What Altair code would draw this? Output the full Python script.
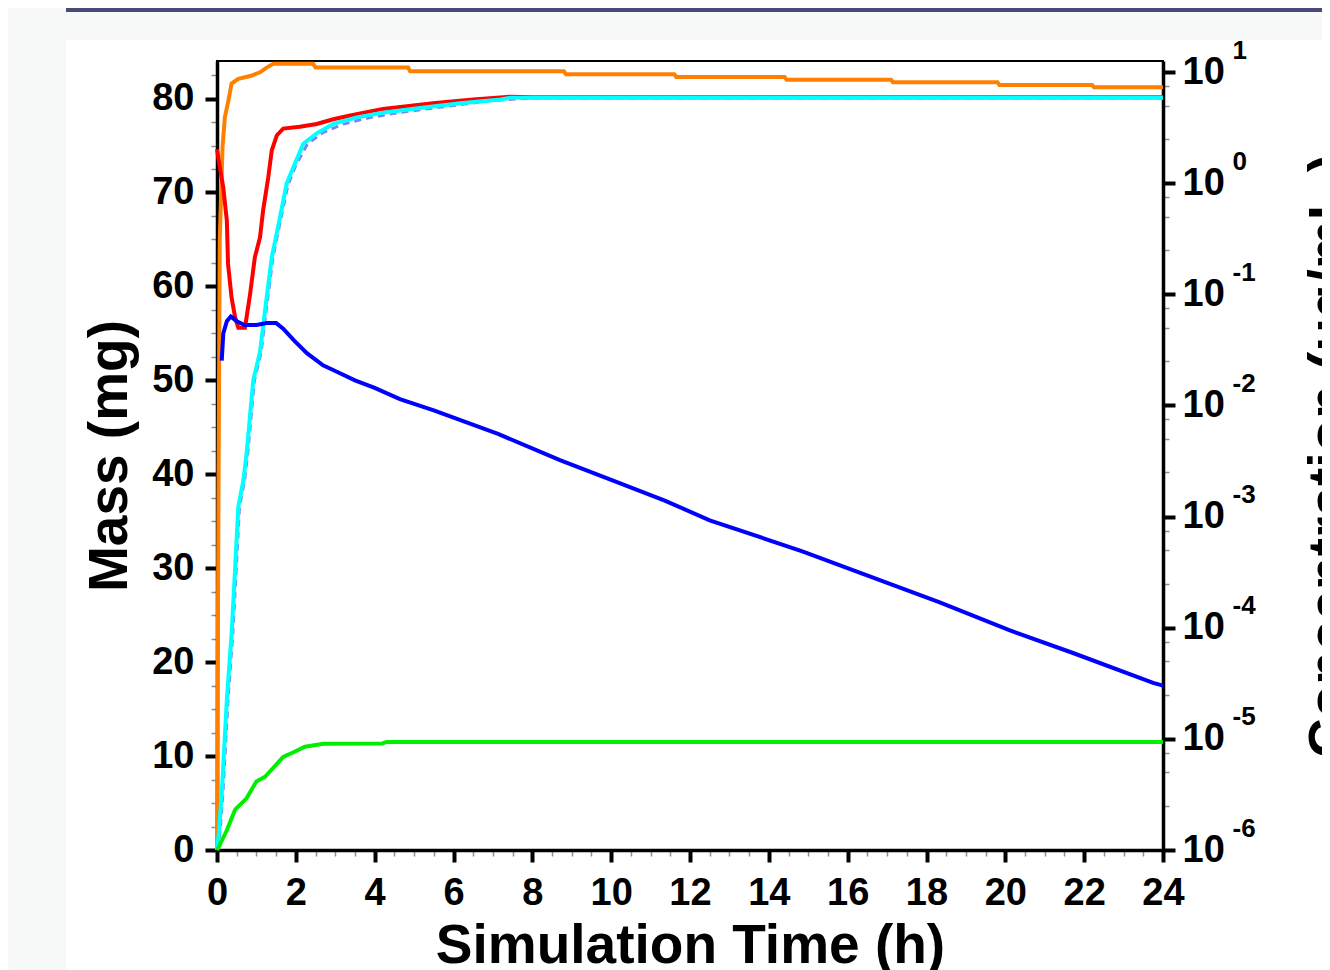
import altair as alt
import pandas as pd

# ---------------- data ----------------
orange_t = [0, 0.04, 0.07, 0.14, 0.2, 0.29, 0.37, 0.54, 0.84, 1.09, 1.26, 1.43, 2.44, 2.5, 4.85, 4.9,
            8.8, 8.85, 11.6, 11.65, 14.4, 14.45, 17.1, 17.15, 19.8, 19.85, 22.2, 22.25, 24]
orange_v = [0, 40, 65, 74.8, 78, 79.8, 81.6, 82.1, 82.4, 82.8, 83.3, 83.7, 83.7, 83.3, 83.3, 82.9,
            82.9, 82.6, 82.6, 82.3, 82.3, 82.0, 82.0, 81.75, 81.75, 81.45, 81.45, 81.2, 81.2]

red_t = [0, 0.04, 0.16, 0.25, 0.28, 0.37, 0.46, 0.54, 0.71, 0.75, 0.84, 0.96, 1.09, 1.17, 1.3, 1.39,
         1.52, 1.68, 2.1, 2.53, 2.95, 3.38, 4.21, 5.48, 6.5, 7.44, 8.0, 24]
red_v = [74.6, 73.5, 70.5, 67, 62.4, 58.8, 56.7, 55.6, 55.6, 56.7, 59.2, 63.1, 65.2, 68.1, 71.6, 74.5,
         76.1, 76.8, 77.0, 77.3, 77.8, 78.2, 78.9, 79.5, 79.9, 80.2, 80.15, 80.15]

cyan_t = [0, 0.05, 0.12, 0.25, 0.37, 0.46, 0.54, 0.67, 0.75, 0.92, 1.09, 1.22, 1.39, 1.6, 1.77, 1.94,
          2.19, 2.53, 2.95, 3.55, 4.21, 5.15, 6.17, 7.2, 7.44, 24]
cyan_v = [0, 2, 6, 16, 23, 30, 36.5, 39.4, 42.2, 50, 53, 57.5, 63.1, 67.4, 71, 72.7,
          75.2, 76.3, 77.3, 78.0, 78.5, 79.0, 79.5, 79.9, 80.1, 80.1]

purple_t = [0.02, 0.08, 0.15, 0.28, 0.4, 0.49, 0.57, 0.7, 0.78, 0.95, 1.12, 1.25, 1.42, 1.63, 1.8,
            2.0, 2.3, 2.7, 3.2, 3.9, 4.6, 5.5, 7.0, 8.0, 24]
purple_v = [0, 2, 6, 16, 23, 30, 36.5, 39.4, 42.2, 50, 53, 57.5, 63.1, 67.4, 70.8,
            72.9, 75.2, 76.4, 77.3, 78.0, 78.5, 79.0, 79.8, 80.05, 80.05]

green_t = [0, 0.03, 0.25, 0.46, 0.75, 1.0, 1.22, 1.68, 1.94, 2.23, 2.7, 4.2, 4.3, 24]
green_v = [0, 0.2, 2.1, 4.3, 5.5, 7.3, 7.8, 9.9, 10.4, 11.0, 11.3, 11.35, 11.5, 11.5]

blue_t = [0.12, 0.16, 0.25, 0.35, 0.5, 0.7, 1.0, 1.26, 1.5, 1.68, 1.94, 2.28, 2.69, 3.0, 3.5, 4.0,
          4.64, 5.5, 7.13, 8.7, 10.0, 11.36, 12.5, 14.85, 16.2, 18.32, 20.1, 21.7, 23.75, 24.0]
blue_v = [52.1, 55.0, 56.3, 56.8, 56.3, 55.9, 55.9, 56.1, 56.1, 55.5, 54.3, 52.9, 51.6, 51.0, 50.0, 49.2,
          48.0, 46.8, 44.3, 41.5, 39.4, 37.2, 35.1, 31.8, 29.7, 26.4, 23.4, 21.0, 17.8, 17.5]

x_ticks = [i * 0.5 for i in range(0, 49)]          # majors every 2 h, minors every 0.5 h
y_ticks = [i * 2.5 for i in range(0, 34)]          # majors every 10 mg, minors every 2.5 mg
conc_major = [10.0 ** k for k in range(-6, 2)]
conc_ticks = [m * 10.0 ** k for k in range(-6, 2) for m in (1, 2.5, 5, 7.5) if m * 10.0 ** k <= 12.5]
conc_range_t = [0, 24]
conc_range_v = [1e-6, 10.0 ** 1.1]

X_DOMAIN = [0, 24]
Y_DOMAIN = [0, 84]
C_DOMAIN = [1e-6, 10.0 ** 1.1]

FONT = "Liberation Sans"


def cond(test, a, b):
    return {"condition": {"test": test, "value": a}, "value": b}


MX = "datum.value % 2 === 0"
MY = "datum.value % 10 === 0"
MC = "abs(log(datum.value)/LN10 - round(log(datum.value)/LN10)) < 0.001"

x_scale = alt.Scale(domain=X_DOMAIN, nice=False, zero=False)
y_scale = alt.Scale(domain=Y_DOMAIN, nice=False, zero=False)
c_scale = alt.Scale(type="log", domain=C_DOMAIN, nice=False)

x_axis = alt.Axis(
    orient="bottom", values=x_ticks, labelExpr=f"{MX} ? format(datum.value, 'd') : ''",
    tickSize=cond(MX, 12, 6), tickWidth=cond(MX, 4, 1.5), tickColor=cond(MX, "black", "#8f8f8f"),
    domainColor="black", domainWidth=3.5, grid=False,
    labelFont=FONT, labelFontSize=38, labelFontWeight="bold", labelColor="black",
    labelPadding=12, labelFlush=False, labelOverlap=False,
    title="Simulation Time (h)", titleFont=FONT, titleFontSize=55, titleFontWeight="bold",
    titleColor="black", titlePadding=7,
)
y_axis = alt.Axis(
    orient="left", values=y_ticks, labelExpr=f"{MY} ? format(datum.value, 'd') : ''",
    tickSize=cond(MY, 12, 6), tickWidth=cond(MY, 4, 1.5), tickColor=cond(MY, "black", "#8f8f8f"),
    domainColor="black", domainWidth=3.5, grid=False,
    labelFont=FONT, labelFontSize=38, labelFontWeight="bold", labelColor="black",
    labelPadding=11, labelOverlap=False, labelFlush=False,
    title="Mass (mg)", titleFont=FONT, titleFontSize=55, titleFontWeight="bold",
    titleColor="black", titlePadding=13,
)
c_axis = alt.Axis(
    orient="right", values=conc_ticks, labelExpr=f"{MC} ? '10' : ''",
    tickSize=cond(MC, 12, 6), tickWidth=cond(MC, 4, 1.5), tickColor=cond(MC, "black", "#8f8f8f"),
    domainColor="black", domainWidth=3.5, grid=False,
    labelFont=FONT, labelFontSize=38, labelFontWeight="bold", labelColor="black",
    labelPadding=7, labelOverlap=False, labelFlush=False,
    title="Concentration (ug/mL )", titleFont=FONT, titleFontSize=55, titleFontWeight="bold",
    titleColor="black", titleAngle=270, titleBaseline="top", titlePadding=79,
)
e_axis = alt.Axis(
    orient="right", values=conc_major, labelExpr="'' + round(log(datum.value)/LN10)",
    ticks=False, domain=False, grid=False,
    labelFont=FONT, labelFontSize=26, labelFontWeight="bold", labelColor="black",
    labelPadding=69, labelOffset=-22, labelOverlap=False, labelFlush=False, title=None,
)


def line(t, v, color, first=False, width=4, dash=None):
    df = pd.DataFrame({"t": t, "v": v})
    kw = dict(color=color, strokeWidth=width, strokeCap="butt", strokeJoin="miter")
    if dash:
        kw["strokeDash"] = dash
    return alt.Chart(df).mark_line(**kw).encode(
        x=alt.X("t:Q", scale=x_scale, axis=x_axis if first else None),
        y=alt.Y("v:Q", scale=y_scale, axis=y_axis if first else None),
    )


conc_df = pd.DataFrame({"t": conc_range_t, "c": conc_range_v})
conc_major_layer = alt.Chart(conc_df).mark_point(opacity=0).encode(
    x=alt.X("t:Q", scale=x_scale, axis=None),
    y=alt.Y("c:Q", scale=c_scale, axis=c_axis),
)
conc_exp_layer = alt.Chart(conc_df).mark_point(opacity=0).encode(
    x=alt.X("t:Q", scale=x_scale, axis=None),
    y=alt.Y("c:Q", scale=c_scale, axis=e_axis),
)

# page decoration around the figure (outside the plot area)
deco_df = pd.DataFrame({"d": [0]})
left_strip = alt.Chart(deco_df).mark_rect(color="#f7f9f8").encode(
    x=alt.value(-209), x2=alt.value(-151), y=alt.value(-53), y2=alt.value(1000))
top_strip = alt.Chart(deco_df).mark_rect(color="#f7f9f8").encode(
    x=alt.value(-151), x2=alt.value(1200), y=alt.value(-53), y2=alt.value(-21))
band = alt.Chart(deco_df).mark_rect(color="#4a4a78").encode(
    x=alt.value(-151), x2=alt.value(1200), y=alt.value(-61), y2=alt.value(-49))

chart = alt.layer(
    left_strip, top_strip, band,
    line(orange_t, orange_v, "#ff8000", first=True),
    line(red_t, red_v, "#ff0000"),
    line(purple_t, purple_v, "#7f7fff", width=3, dash=[7, 5]),
    line(cyan_t, cyan_v, "#00ffff"),
    line(green_t, green_v, "#00ee00"),
    line(blue_t, blue_v, "#0000ff"),
    conc_major_layer, conc_exp_layer,
).resolve_scale(y="independent").resolve_axis(x="independent", y="independent").properties(
    width=946, height=789,
    autosize=alt.AutoSizeParams(type="none"),
    padding={"left": 209, "top": 53, "right": 159, "bottom": 120},
    background="white",
).configure_view(stroke="black", strokeWidth=2)

chart.save("out.html", embed_options={"renderer": "svg", "actions": False})
